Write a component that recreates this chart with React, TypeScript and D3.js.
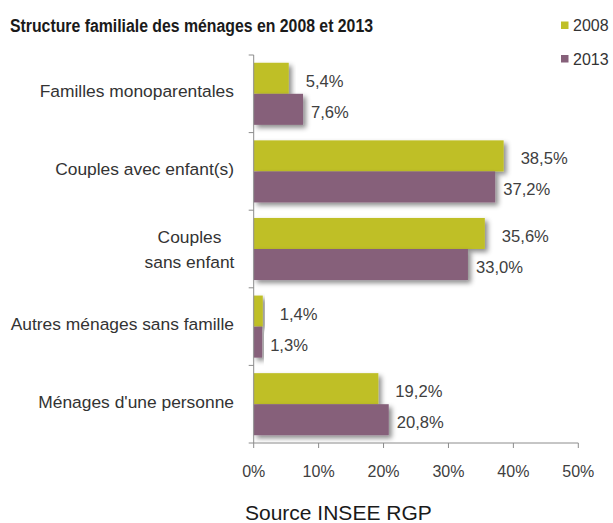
import React from "react";
import * as d3 from "d3";

const categories = [
  ["Familles monoparentales"],
  ["Couples avec enfant(s)"],
  ["Couples", "sans enfant"],
  ["Autres ménages sans famille"],
  ["Ménages d'une personne"],
];
const series = ["2008", "2013"];
const values2008 = [5.4, 38.5, 35.6, 1.4, 19.2];
const values2013 = [7.6, 37.2, 33.0, 1.3, 20.8];
const xTicks = [0, 10, 20, 30, 40, 50];
const colors = ["#BFBF28", "#86607A"];

const W = 613;
const H = 523;
const FONT = "'Liberation Sans', Arial, sans-serif";

export default function App() {
  const x = d3.scaleLinear().domain([0, 50]).range([253.7, 578.3]);
  const keys = categories.map((c) => c.join(" "));
  const y = d3
    .scaleBand<string>()
    .domain(keys)
    .range([55, 443])
    .paddingInner(0.2)
    .paddingOuter(0.1);
  const sub = d3.scaleBand<string>().domain(series).range([0, y.bandwidth()]);
  const step = y.step();
  const boundaries = d3.range(keys.length + 1).map((i) => 55 + i * step);
  const allValues = [values2008, values2013];
  const labelOffset = [17, 8];

  return (
    <svg width={W} height={H} style={{ position: "absolute", left: 0, top: 0 }}>
      <defs>
        <filter id="sh" x="-10%" y="-20%" width="130%" height="160%">
          <feDropShadow dx="3" dy="3" stdDeviation="2.4" floodColor="#000" floodOpacity="0.45" />
        </filter>
      </defs>
      <rect width={W} height={H} fill="#fff" />
      <text
        x={10}
        y={32}
        fontFamily={FONT}
        fontWeight="bold"
        fontSize={18}
        fill="#1a1a1a"
        textLength={363}
        lengthAdjust="spacingAndGlyphs"
      >
        Structure familiale des ménages en 2008 et 2013
      </text>

      {series.map((s, i) => (
        <g key={s}>
          <rect x={561} y={i === 0 ? 21.5 : 55} width={7.5} height={7.5} fill={colors[i]} />
          <text x={573} y={i === 0 ? 31 : 65} fontFamily={FONT} fontSize={16} fill="#333">
            {s}
          </text>
        </g>
      ))}

      {allValues.map((vals, si) =>
        vals.map((v, ci) => (
          <rect
            key={`${si}-${ci}`}
            x={x(0)}
            y={(y(keys[ci]) as number) + (sub(series[si]) as number)}
            width={x(v) - x(0)}
            height={sub.bandwidth()}
            fill={colors[si]}
            filter="url(#sh)"
          />
        ))
      )}

      {allValues.map((vals, si) =>
        vals.map((v, ci) => (
          <text
            key={`l${si}-${ci}`}
            x={x(v) + labelOffset[si]}
            y={(y(keys[ci]) as number) + (sub(series[si]) as number) + sub.bandwidth() / 2 + 8.5}
            fontFamily={FONT}
            fontSize={16.6}
            fill="#404040"
          >
            {v.toFixed(1).replace(".", ",")}%
          </text>
        ))
      )}

      {/* vertical axis */}
      <line x1={x(0)} x2={x(0)} y1={55} y2={443} stroke="#8c8c8c" strokeWidth={1} />
      {boundaries.map((b, i) => (
        <line key={i} x1={x(0) - 5} x2={x(0)} y1={b} y2={b} stroke="#8c8c8c" />
      ))}
      {/* horizontal axis */}
      <line x1={x(0)} x2={x(50)} y1={443} y2={443} stroke="#8c8c8c" />
      {xTicks.map((t) => (
        <g key={t}>
          <line x1={x(t)} x2={x(t)} y1={443} y2={448} stroke="#8c8c8c" />
          <text
            x={x(t)}
            y={477}
            textAnchor="middle"
            fontFamily={FONT}
            fontSize={16}
            fill="#404040"
          >
            {t}%
          </text>
        </g>
      ))}

      {categories.map((lines, ci) => {
        const cy = (y(keys[ci]) as number) + y.bandwidth() / 2;
        const lh = 25;
        const start = cy - ((lines.length - 1) * lh) / 2;
        const multi = lines.length > 1;
        const off = multi ? 6.5 : 3.5;
        return (
          <text
            key={ci}
            textAnchor={multi ? "middle" : "end"}
            fontFamily={FONT}
            fontSize={17.4}
            fill="#333"
          >
            {lines.map((l, li) => (
              <tspan key={li} x={multi ? 189.5 : 234} y={start + li * lh + off}>
                {l}
              </tspan>
            ))}
          </text>
        );
      })}

      <text x={245} y={520} fontFamily={FONT} fontSize={21} fill="#1a1a1a">
        Source INSEE RGP
      </text>
    </svg>
  );
}
